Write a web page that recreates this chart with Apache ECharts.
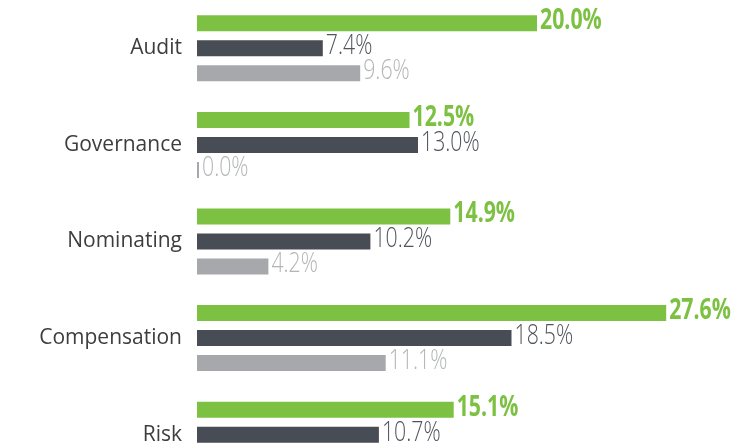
<!DOCTYPE html>
<html>
<head>
<meta charset="utf-8">
<script src="https://cdn.jsdelivr.net/npm/echarts@6/dist/echarts.min.js"></script>
<style>
  html, body { margin: 0; padding: 0; background: #fff; overflow: hidden; width: 747px; height: 444px; }
  #chart { width: 747px; height: 500px; }
</style>
</head>
<body>
<div id="chart"></div>
<script>
// Committee categories, top to bottom
const committees = ['Audit', 'Governance', 'Nominating', 'Compensation', 'Risk'];
// Three comparison series (percent)
const seriesA = [20.0, 12.5, 14.9, 27.6, 15.1];
const seriesB = [7.4, 13.0, 10.2, 18.5, 10.7];
const seriesC = [9.6, 0.0, 4.2, 11.1, 6.3];

const GREEN = '#7dc143';
const DARK = '#474c55';
const LIGHT = '#a6a8ab';

const BAR_W = 16;
const BAR_GAP = 9;
const PITCH = BAR_W + BAR_GAP;

function barSeries(name, data, color) {
  return {
    name: name,
    type: 'bar',
    data: data,
    barWidth: BAR_W,
    barGap: (BAR_GAP / BAR_W * 100) + '%',
    barMinHeight: 2,
    itemStyle: { color: color },
    animation: false
  };
}

// Value labels drawn as horizontally condensed text next to each bar end
function labelSeries(data, slot, color, weight) {
  return {
    type: 'custom',
    data: data.map((v, i) => [v, i]),
    encode: { x: 0, y: 1 },
    silent: true,
    animation: false,
    z: 5,
    renderItem: function (params, api) {
      const v = api.value(0);
      const pt = api.coord([v, api.value(1)]);
      const minLen = v === 0 ? 2 : 0;
      return {
        type: 'text',
        x: pt[0] + minLen + 3,
        y: pt[1] + slot * PITCH - 2,
        scaleX: 0.76,
        style: {
          text: v.toFixed(1) + '%',
          fill: color,
          fontFamily: "'Open Sans', sans-serif",
          fontSize: 28,
          fontWeight: weight,
          align: 'left',
          verticalAlign: 'middle'
        }
      };
    }
  };
}

const chart = echarts.init(document.getElementById('chart'), null, { renderer: 'canvas' });
chart.setOption({
  backgroundColor: '#ffffff',
  grid: { left: 197, right: 40, top: 0, height: 483, containLabel: false },
  xAxis: { type: 'value', min: 0, max: 30, show: false },
  yAxis: {
    type: 'category',
    data: committees,
    inverse: true,
    axisLine: { show: false },
    axisTick: { show: false },
    splitLine: { show: false },
    axisLabel: {
      margin: 15,
      color: '#3d3d3d',
      fontFamily: "'Open Sans', sans-serif",
      fontSize: 21
    }
  },
  series: [
    barSeries('A', seriesA, GREEN),
    barSeries('B', seriesB, DARK),
    barSeries('C', seriesC, LIGHT),
    labelSeries(seriesA, -1, GREEN, 'bold'),
    labelSeries(seriesB, 0, '#50555c', 300),
    labelSeries(seriesC, 1, '#b3b5b7', 300)
  ]
});
</script>
</body>
</html>
